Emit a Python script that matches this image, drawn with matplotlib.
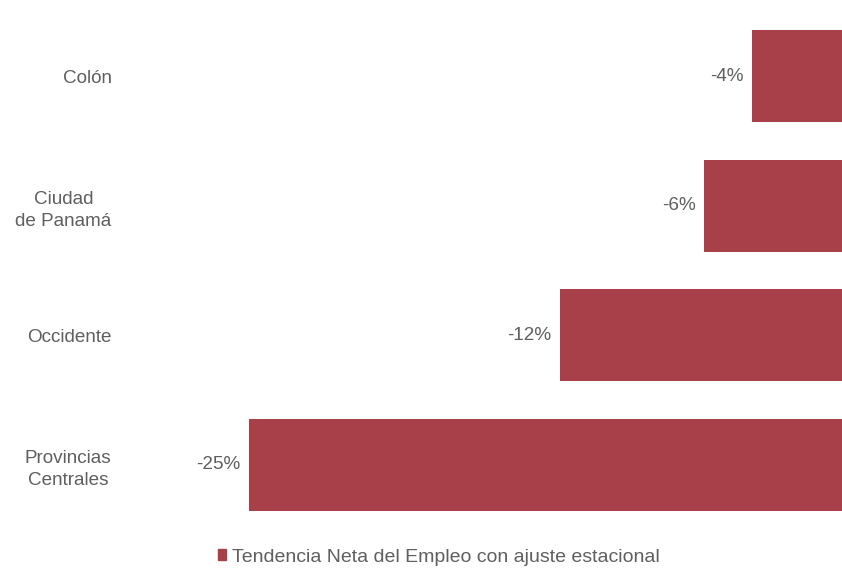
import matplotlib.pyplot as plt
from matplotlib.patches import Patch

plt.rcParams['font.family'] = ['Liberation Sans', 'DejaVu Sans']

regiones = ["Colón", "Ciudad\nde Panamá", "Occidente", "Provincias\nCentrales"]
valores = [-3.8, -5.8, -11.9, -25.0]
serie = "Tendencia Neta del Empleo con ajuste estacional"

color_barra = "#A8404A"
gris = "#5f5f5f"

fig = plt.figure(figsize=(8.42, 5.68), dpi=100)
ax = fig.add_axes([249 / 842, 1 - 511 / 568, 593 / 842, 481 / 568])

pos = range(len(regiones))
ax.barh(pos, valores, height=0.71, color=color_barra)
ax.set_xlim(-25, 0)
ax.set_ylim(len(regiones) - 1 + 0.355, -0.355)

# etiquetas de valor a la izquierda de cada barra
for i, v in enumerate(valores):
    ax.annotate(f"{v:.0f}%", (v, i), xytext=(-6, 0), textcoords="offset points",
                ha="right", va="center", fontsize=13.6, color=gris, annotation_clip=False)

ax.set_yticks(list(pos))
ax.set_yticklabels(regiones, fontsize=13.6, color=gris, multialignment="center",
                   linespacing=1.4)
ax.tick_params(axis="y", length=0, pad=99)
ax.set_xticks([])
for s in ax.spines.values():
    s.set_visible(False)

fig.legend(handles=[Patch(color=color_barra)], labels=[serie], loc="center",
           bbox_to_anchor=(0.521, 11 / 568), frameon=False, fontsize=14, labelcolor=gris,
           handlelength=0.45, handleheight=0.45, handletextpad=0.3)

fig.savefig("out.png", dpi=100)
